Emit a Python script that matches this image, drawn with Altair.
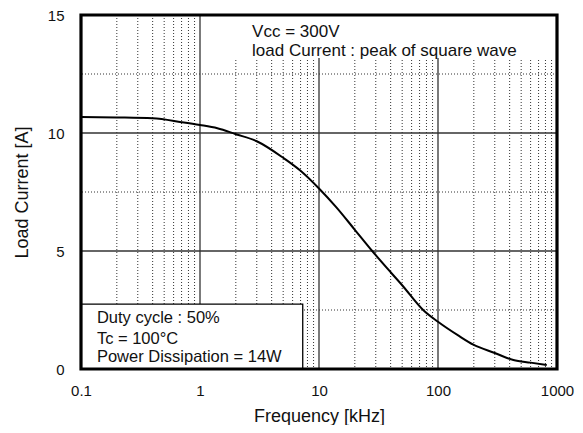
import altair as alt
import pandas as pd

# Curve data
freq_khz = [0.1, 0.2, 0.4, 0.7, 1.0, 1.4, 2.0, 3.0, 5.0, 7.0, 10, 14, 20, 28, 40, 50, 75, 100, 150, 200, 300, 430, 600, 820]
load_a = [10.68, 10.66, 10.62, 10.46, 10.34, 10.2, 9.95, 9.65, 8.95, 8.4, 7.65, 6.85, 5.9, 5.0, 4.1, 3.55, 2.5, 2.0, 1.4, 1.02, 0.68, 0.38, 0.27, 0.17]

x_ticks = [0.1, 1, 10, 100, 1000]
y_ticks = [0, 5, 10, 15]
x_minor = [m * d for d in [0.1, 1, 10, 100] for m in range(2, 10)]
x_major = [1, 10, 100]
y_minor = [2.5, 7.5, 12.5]
y_major = [5, 10]

# Annotation boxes (data units)
top_box_x = [1.79, 925]
top_box_y = [13.18, 15]
bot_box_x = [0.1, 7.3]
bot_box_y = [0, 2.75]

top_text = ["Vcc = 300V", "load Current : peak of square wave"]
top_text_x = [2.74, 2.74]
top_text_y = [14.28, 13.47]
bot_text = ["Duty cycle : 50%", "Tc = 100°C", "Power Dissipation = 14W"]
bot_text_x = [0.136, 0.136, 0.136]
bot_text_y = [2.16, 1.27, 0.5]

FONT = "Liberation Sans"
W, H = 476, 354
xs = alt.Scale(type="log", domain=[0.1, 1000], nice=False)
ys = alt.Scale(domain=[0, 15], nice=False, zero=False)
XT = "Frequency [kHz]"
YT = "Load Current [A]"

xaxis = alt.Axis(values=x_ticks, labelExpr="format(datum.value, '~g')",
                 grid=False, ticks=False, domain=False,
                 labelFont=FONT, labelFontSize=15, labelColor="#111",
                 labelPadding=14, labelBaseline="top",
                 titleFont=FONT, titleFontSize=18, titleFontWeight="normal",
                 titleColor="#111", titleBaseline="middle", titleY=47, titleX=W / 2,
                 labelFlush=False, labelOverlap=False)
yaxis = alt.Axis(values=y_ticks, grid=False, ticks=False, domain=False,
                 labelFont=FONT, labelFontSize=15, labelColor="#111",
                 labelPadding=17, labelBaseline="middle",
                 titleFont=FONT, titleFontSize=18, titleFontWeight="normal",
                 titleColor="#111", titleBaseline="middle", titleX=-59,
                 titleY=H / 2, labelFlush=False, labelOverlap=False)


def X(field):
    return alt.X(field, scale=xs, axis=xaxis, title=XT)


def Y(field):
    return alt.Y(field, scale=ys, axis=yaxis, title=YT)


curve_df = pd.DataFrame({"f": freq_khz, "i": load_a})

vminor = alt.Chart(pd.DataFrame({"f": x_minor})).mark_rule(
    color="#333", strokeWidth=1, strokeDash=[1, 2]
).encode(x=X("f:Q"))
vmajor = alt.Chart(pd.DataFrame({"f": x_major})).mark_rule(
    color="#333", strokeWidth=1.3
).encode(x=X("f:Q"))
hminor = alt.Chart(pd.DataFrame({"i": y_minor})).mark_rule(
    color="#333", strokeWidth=1, strokeDash=[1, 2]
).encode(y=Y("i:Q"))
hmajor = alt.Chart(pd.DataFrame({"i": y_major})).mark_rule(
    color="#333", strokeWidth=1.3
).encode(y=Y("i:Q"))

top_box = alt.Chart(pd.DataFrame({"f": [top_box_x[0]], "f2": [top_box_x[1]],
                                  "i": [top_box_y[0]], "i2": [top_box_y[1]]})).mark_rect(
    fill="white"
).encode(x=X("f:Q"), x2="f2:Q", y=Y("i:Q"), y2="i2:Q")

bot_box = alt.Chart(pd.DataFrame({"f": [bot_box_x[0]], "f2": [bot_box_x[1]],
                                  "i": [bot_box_y[0]], "i2": [bot_box_y[1]]})).mark_rect(
    fill="white", stroke="black", strokeWidth=1.3
).encode(x=X("f:Q"), x2="f2:Q", y=Y("i:Q"), y2="i2:Q")

curve = alt.Chart(curve_df).mark_line(
    color="black", strokeWidth=2, interpolate="monotone"
).encode(x=X("f:Q"), y=Y("i:Q"))

top_labels = alt.Chart(pd.DataFrame({"t": top_text, "f": top_text_x, "i": top_text_y})).mark_text(
    font=FONT, fontSize=17, align="left", baseline="middle", color="#111"
).encode(x=X("f:Q"), y=Y("i:Q"), text="t:N")

bot_labels = alt.Chart(pd.DataFrame({"t": bot_text, "f": bot_text_x, "i": bot_text_y})).mark_text(
    font=FONT, fontSize=16.5, align="left", baseline="middle", color="#111"
).encode(x=X("f:Q"), y=Y("i:Q"), text="t:N")

frame = alt.Chart(pd.DataFrame({"a": [0]})).mark_rect(
    fill=None, stroke="black", strokeWidth=3.2
).encode(x=alt.value(0), x2=alt.value(W), y=alt.value(0), y2=alt.value(H))

chart = alt.layer(
    vminor, vmajor, hminor, hmajor, top_box, bot_box, curve, top_labels, bot_labels, frame
).properties(
    width=W, height=H,
    autosize=alt.AutoSizeParams(type="none"),
    padding={"left": 73, "top": 7, "right": 18, "bottom": 56},
).configure_view(stroke=None).configure(background="white")

chart.save("out.html", embed_options={"renderer": "svg", "actions": False})
